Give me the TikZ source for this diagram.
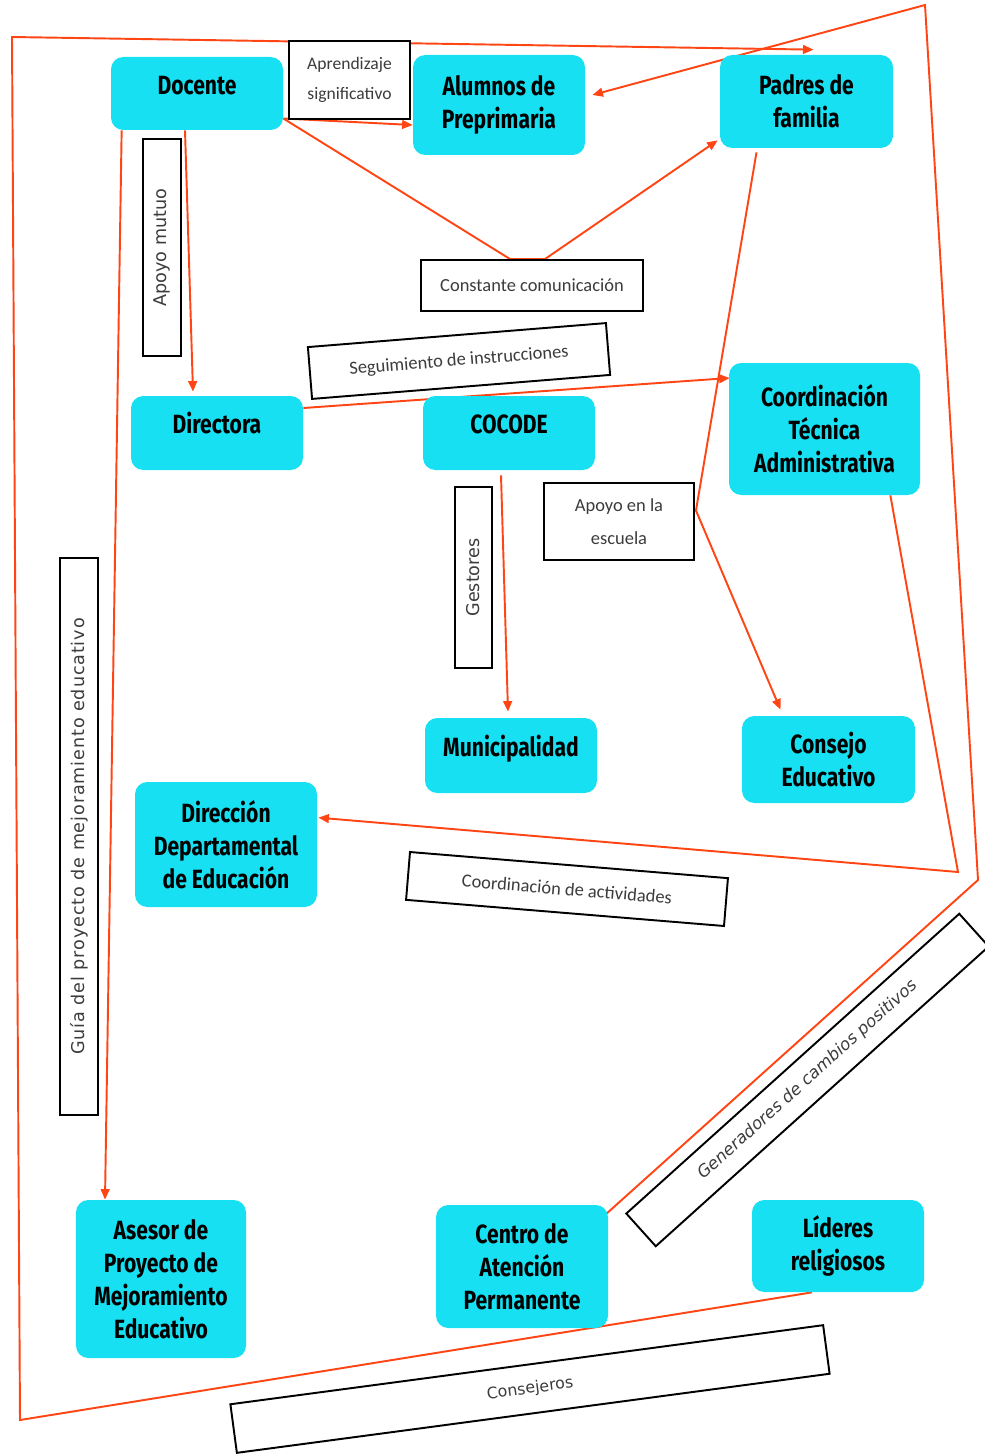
\documentclass[tikz,border=0pt]{standalone}
\usepackage{fontspec}
\usepackage{tikz}
\usetikzlibrary{arrows.meta,calc,backgrounds}

\newfontfamily\cajafont[FakeStretch=0.8]{Fira Sans}
\newfontfamily\notafont{Carlito}
\newfontfamily\anchafont{DejaVu Sans}
\newfontfamily\espaciadafont[LetterSpace=5]{DejaVu Sans}

\definecolor{celeste}{RGB}{22,224,242}
\definecolor{rojo}{RGB}{255,69,20}
\definecolor{gristexto}{RGB}{60,60,60}

\tikzset{
	entidad/.style={rectangle, rounded corners=7pt, fill=celeste, align=center, inner sep=0pt,
		font=\cajafont\bfseries\fontsize{15}{18.7}\selectfont},
	unalinea/.style={text height=11pt, text depth=10pt},
	nota/.style={rectangle, draw=black, line width=1.1pt, fill=white, align=center, inner sep=0pt,
		text=gristexto, font=\notafont\fontsize{10.5}{17}\selectfont},
	notavert/.style={nota, rotate=90, font=\anchafont\fontsize{10}{12}\selectfont},
	enlace/.style={draw=rojo, line width=1.1pt, -{Triangle[length=6pt,width=5pt]}},
}

\begin{document}
\begin{tikzpicture}[x=0.2mm, y=-0.2mm]

	\useasboundingbox (0,0) rectangle (984,1454);

	% Actores de la comunidad educativa
	\node[entidad, unalinea, minimum width=34.4mm, minimum height=14.6mm] (docente) at (197,93.5) {Docente};
	\node[entidad, minimum width=34.4mm, minimum height=20mm] (alumnos) at (499,105) {Alumnos de\\Preprimaria};
	\node[entidad, minimum width=34.6mm, minimum height=18.6mm] (padres) at (806.5,101.5) {Padres de\\familia};
	\node[entidad, unalinea, minimum width=34.4mm, minimum height=14.8mm] (directora) at (217,433) {Directora};
	\node[entidad, unalinea, minimum width=34.4mm, minimum height=14.8mm] (cocode) at (509,433) {COCODE};
	\node[entidad, minimum width=38.2mm, minimum height=26.4mm] (cta) at (824.5,429) {Coordinación\\Técnica\\Administrativa};
	\node[entidad, unalinea, minimum width=34.4mm, minimum height=15mm] (municipalidad) at (511,755.5) {Municipalidad};
	\node[entidad, minimum width=34.6mm, minimum height=17.4mm] (consejo) at (828.5,759.5) {Consejo\\Educativo};
	\node[entidad, minimum width=36.4mm, minimum height=25mm] (dde) at (226,844.5) {Dirección\\Departamental\\de Educación};
	\node[entidad, minimum width=34mm, minimum height=31.6mm] (asesor) at (161,1279) {Asesor de\\Proyecto de\\Mejoramiento\\Educativo};
	\node[entidad, minimum width=34.4mm, minimum height=24.6mm] (centro) at (522,1266.5) {Centro de\\Atención\\Permanente};
	\node[entidad, minimum width=34.4mm, minimum height=18.4mm] (lideres) at (838,1246) {Líderes\\religiosos};

	% Etiquetas de las relaciones
	\node[nota, font=\notafont\fontsize{10}{17}\selectfont, minimum width=24.2mm, minimum height=15.6mm] (aprendizaje) at (349.5,80) {Aprendizaje\\significativo};
	\node[notavert, minimum width=43.4mm, minimum height=7.6mm] (apoyomutuo) at (162,247.5) {Apoyo mutuo};
	\node[nota, minimum width=44.4mm, minimum height=10.2mm] (constante) at (532,285.5) {Constante comunicación};
	\node[nota, rotate=4.6, minimum width=59.8mm, minimum height=10.4mm] (seguimiento) at (459,361) {Seguimiento de instrucciones};
	\node[nota, font=\notafont\fontsize{10.5}{19}\selectfont, minimum width=30mm, minimum height=15.4mm] (apoyoescuela) at (619,521.5) {Apoyo en la\\escuela};
	\node[notavert, minimum width=36.2mm, minimum height=7.4mm] (gestores) at (473.5,577.5) {Gestores};
	\node[notavert, font=\espaciadafont\fontsize{10}{12}\selectfont, minimum width=111.4mm, minimum height=7.6mm] (guia) at (79,836.5) {Guía del proyecto de mejoramiento educativo};
	\node[nota, rotate=-4.7, minimum width=63.8mm, minimum height=9.6mm] (coordinacion) at (567,889) {Coordinación de actividades};
	\node[nota, rotate=42, font=\anchafont\itshape\fontsize{9.5}{12}\selectfont, minimum width=89.6mm, minimum height=8.8mm] (generadores) at (807.5,1080) {Generadores de cambios positivos};
	\node[nota, rotate=7.6, font=\anchafont\fontsize{9}{12}\selectfont, minimum width=119.6mm, minimum height=9.8mm] (consejeros) at (530,1389) {Consejeros};

	% Quiebres de las lineas
	\coordinate (izqabajo) at (20,1420);
	\coordinate (izqarriba) at (12,37);
	\coordinate (derabajo) at (978,880);
	\coordinate (derarriba) at (925,5);
	\coordinate (ctaquiebre) at (958,872);
	\coordinate (padresquiebre) at ($(apoyoescuela.east)+(1,-11)$);

	\begin{scope}[on background layer]
		% Lazos exteriores
		\draw[enlace] ($(lideres.south)+(-26,0)$) -- (izqabajo) -- (izqarriba) -- ($(padres.north)+(7,-5)$);
		\draw[enlace] ($(centro.north east)+(-3,10)$) -- (derabajo) -- (derarriba) -- ($(alumnos.east)+(7,-10)$);
		\draw[enlace] ($(cta.south east)+(-30,0)$) -- (ctaquiebre) -- ($(dde.north east)+(1,36)$);

		% Desde el docente
		\draw[enlace] ($(docente.east)+(0,25)$) -- ($(alumnos.west)+(0,20)$);
		\draw[enlace] ($(docente.east)+(0,25)$) -- ($(constante.north)+(-22,0)$) -- ($(constante.north)+(13,0)$) -- ($(padres.south west)+(-2,-8)$);
		\draw[enlace] ($(docente.south)+(-12,0)$) -- ($(directora.north)+(-24,-4)$);
		\draw[enlace] ($(docente.south west)+(11,0)$) -- ($(asesor.north)+(-56,0)$);

		% Resto
		\draw[enlace] ($(directora.east)+(0,-25)$) -- ($(cta.west)+(1,-51)$);
		\draw[enlace] ($(cocode.south)+(-8,5)$) -- ($(municipalidad.north)+(-3,-6)$);
		\draw[enlace] ($(padres.south)+(-50,4)$) -- (padresquiebre) -- ($(consejo.north)+(-48,-6)$);
	\end{scope}

\end{tikzpicture}
\end{document}
